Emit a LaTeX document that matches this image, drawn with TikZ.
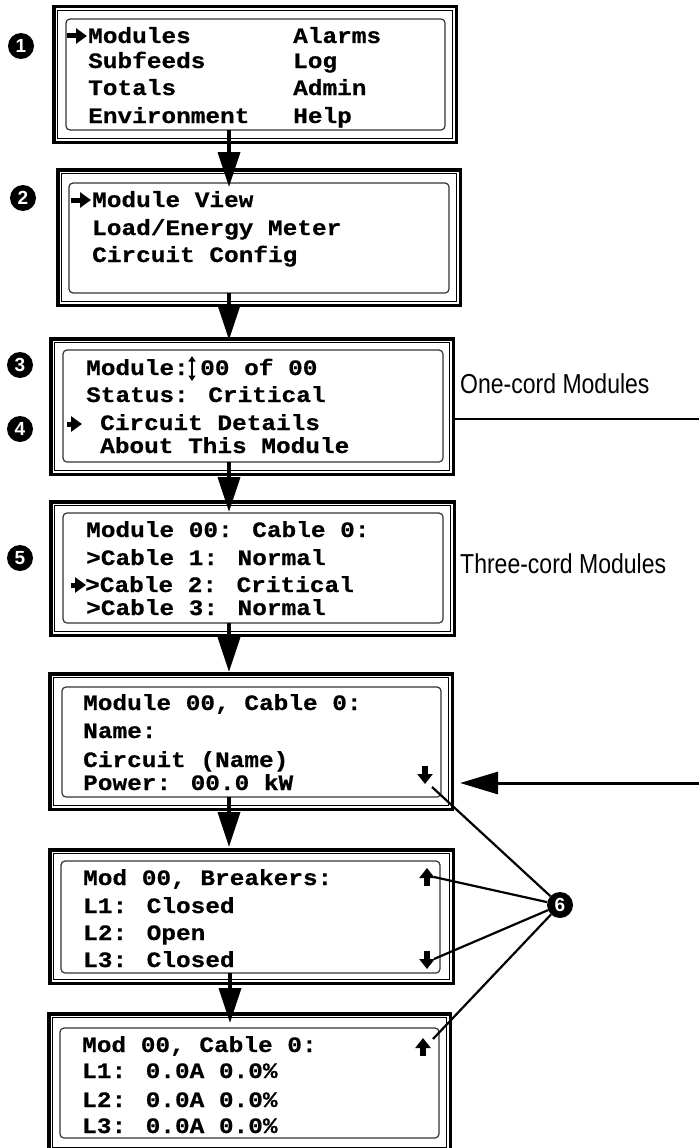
\documentclass[tikz,border=0pt]{standalone}
\usepackage{fontspec}
\setmainfont{Liberation Sans}
\newfontfamily\scrfont{Liberation Mono}[FakeStretch=1.11, FakeBold=0.6]
\newfontfamily\narrowfont{Liberation Sans}[FakeStretch=0.84]
\usetikzlibrary{arrows.meta,fit}
\tikzset{
  thickframe/.style={draw, line width=3.5pt, inner sep=0pt, outer sep=0pt},
  thinframe/.style={draw, line width=0.9pt, inner sep=0pt, outer sep=0pt},
  inbox/.style={draw=black!80, line width=1.2pt, rounded corners=4pt, inner sep=0pt, outer sep=0pt},
  scr/.style={anchor=base west, inner sep=0pt, font=\scrfont\bfseries\fontsize{22}{26}\selectfont},
  lbl/.style={anchor=base west, inner sep=0pt, font=\narrowfont\fontsize{27.4}{32}\selectfont},
  flow/.style={line width=3.5pt, -{Triangle[length=35pt, width=22pt]}},
  pointer/.style={line width=5pt, -{Triangle[length=11pt, width=15pt]}},
  scroll/.style={line width=5.5pt, -{Triangle[length=10pt, width=15pt]}},
  updown/.style={line width=1.8pt, {Triangle[length=5.5pt, width=7pt]}-{Triangle[length=5.5pt, width=7pt]}},
  leader/.style={line width=2.2pt},
  bigarrow/.style={line width=3pt, -{Triangle[length=38pt, width=22pt]}},
  num/.style={circle, fill=black, text=white, inner sep=0pt, minimum size=26pt, font=\bfseries\fontsize{19}{19}\selectfont},
}
\newcommand\scrbox[9]{%
  \node[thickframe, fit={(#2+1.75,#3+1.75) (#4-1.75,#5-1.75)}] (#1o) {};
  \node[thinframe, fit={(#2+5.5,#3+5.5) (#4-5.5,#5-5.5)}] (#1m) {};
  \node[inbox, fit={(#6,#7) (#8,#9)}] (#1) {};
}
\begin{document}
\begin{tikzpicture}[x=1pt, y=-1pt]
\useasboundingbox (0,0) rectangle (699,1148);
\begin{scope}
\clip (0,0) rectangle (699,1148);
% screens
\scrbox{s1}{52}{5}{458}{144}{66}{19}{445}{130}
\scrbox{s2}{56}{168}{462}{307}{69}{183}{449}{293}
\scrbox{s3}{49}{337}{455}{476}{63}{350}{443}{462}
\scrbox{s4}{49}{500}{456}{637}{63}{513}{443}{623}
\scrbox{s5}{48}{672}{454}{811}{62}{687}{441}{797}
\scrbox{s6}{48}{848}{455}{985}{61}{861}{440}{973}
\scrbox{s7}{47}{1012}{452}{1153}{60}{1028}{439}{1138}
\end{scope}

% texts screen 1
\node[scr] (t1a) at (88,43) {Modules};
\node[scr] (t1b) at (293,43) {Alarms};
\node[scr] (t1c) at (88,68) {Subfeeds};
\node[scr] (t1d) at (293,68) {Log};
\node[scr] (t1e) at (88,95) {Totals};
\node[scr] (t1f) at (293,95) {Admin};
\node[scr] (t1g) at (88,123) {Environment};
\node[scr] (t1h) at (293,123) {Help};
% screen 2
\node[scr] (t2a) at (92,207) {Module View};
\node[scr] (t2b) at (92,235) {Load/Energy Meter};
\node[scr] (t2c) at (92,262) {Circuit Config};
% screen 3
\node[scr] (t3a) at (86,375) {Module:};
\node[scr] (t3b) at (200,375) {00 of 00};
\node[scr] (t3c) at (86,402) {Status: Critical};
\node[scr] (t3d) at (100,430) {Circuit Details};
\node[scr] (t3e) at (100,453) {About This Module};
% screen 4
\node[scr] (t4a) at (86,537) {Module 00: Cable 0:};
\node[scr] (t4b) at (86,565) {>Cable 1: Normal};
\node[scr] (t4c) at (85,592) {>Cable 2: Critical};
\node[scr] (t4d) at (86,615) {>Cable 3: Normal};
% screen 5
\node[scr] (t5a) at (83,710) {Module 00, Cable 0:};
\node[scr] (t5b) at (83,738) {Name:};
\node[scr] (t5c) at (83,767) {Circuit (Name)};
\node[scr] (t5d) at (83,790) {Power: 00.0 kW};
% screen 6
\node[scr] (t6a) at (83,885) {Mod 00, Breakers:};
\node[scr] (t6b) at (83,913) {L1: Closed};
\node[scr] (t6c) at (83,940) {L2: Open};
\node[scr] (t6d) at (83,967) {L3: Closed};
% screen 7
\node[scr] (t7a) at (82,1052) {Mod 00, Cable 0:};
\node[scr] (t7b) at (82,1078) {L1: 0.0A 0.0\%};
\node[scr] (t7c) at (82,1107) {L2: 0.0A 0.0\%};
\node[scr] (t7d) at (82,1133) {L3: 0.0A 0.0\%};

% flow arrows
\coordinate (a1s) at (229,130);  \coordinate (a1e) at (229,187);
\coordinate (a2s) at (229,293);  \coordinate (a2e) at (229,340);
\coordinate (a3s) at (229,462);  \coordinate (a3e) at (229,512);
\coordinate (a4s) at (229,623);  \coordinate (a4e) at (229,672);
\coordinate (a5s) at (229,797);  \coordinate (a5e) at (229,847);
\coordinate (a6s) at (230,973);  \coordinate (a6e) at (230,1023);
\draw[flow] (a1s) -- (a1e);
\draw[flow] (a2s) -- (a2e);
\draw[flow] (a3s) -- (a3e);
\draw[flow] (a4s) -- (a4e);
\draw[flow] (a5s) -- (a5e);
\draw[flow] (a6s) -- (a6e);

% pointers
\coordinate (p1s) at (67,36);  \coordinate (p1e) at (87,36);
\coordinate (p2s) at (71,200); \coordinate (p2e) at (91,200);
\coordinate (p3s) at (67,424); \coordinate (p3e) at (82,424);
\coordinate (p4s) at (71,585); \coordinate (p4e) at (86,585);
\draw[pointer] (p1s) -- (p1e);
\draw[pointer] (p2s) -- (p2e);
\draw[pointer] (p3s) -- (p3e);
\draw[pointer] (p4s) -- (p4e);

% up-down arrow in screen 3
\coordinate (ud1) at (192,356); \coordinate (ud2) at (192,381);
\draw[updown] (ud1) -- (ud2);

% scroll arrows
\coordinate (d5s) at (425,766);  \coordinate (d5e) at (425,784);
\coordinate (u6s) at (427,886);  \coordinate (u6e) at (427,868);
\coordinate (d6s) at (427,951);  \coordinate (d6e) at (427,969);
\coordinate (u7s) at (423,1056); \coordinate (u7e) at (423,1038);
\draw[scroll] (d5s) -- (d5e);
\draw[scroll] (u6s) -- (u6e);
\draw[scroll] (d6s) -- (d6e);
\draw[scroll] (u7s) -- (u7e);

% numbers
\node[num] (n1) at (21,46) {1};
\node[num] (n2) at (23,198) {2};
\node[num] (n3) at (20,365) {3};
\node[num] (n4) at (20,429) {4};
\node[num] (n5) at (20,558) {5};
\node[num] (n6) at (560,905) {6};

% leaders to 6
\coordinate (l5) at (432,787);
\coordinate (l6a) at (434,877);
\coordinate (l6b) at (434,959);
\coordinate (l7) at (433,1039);
\draw[leader] (l5) -- (n6);
\draw[leader] (l6a) -- (n6);
\draw[leader] (l6b) -- (n6);
\draw[leader] (l7) -- (n6);

% right labels
\node[lbl] (oc) at (460,393) {One-cord Modules};
\coordinate (ocend) at (699,419);
\draw[line width=2.5pt] (s3o.east |- ocend) -- (ocend);
\node[lbl] (tc) at (460,573) {Three-cord Modules};
\coordinate (bigs) at (699,783);
\coordinate (bigt) at (460,783);
\draw[bigarrow] (bigs) -- (bigt);
\end{tikzpicture}
\end{document}
